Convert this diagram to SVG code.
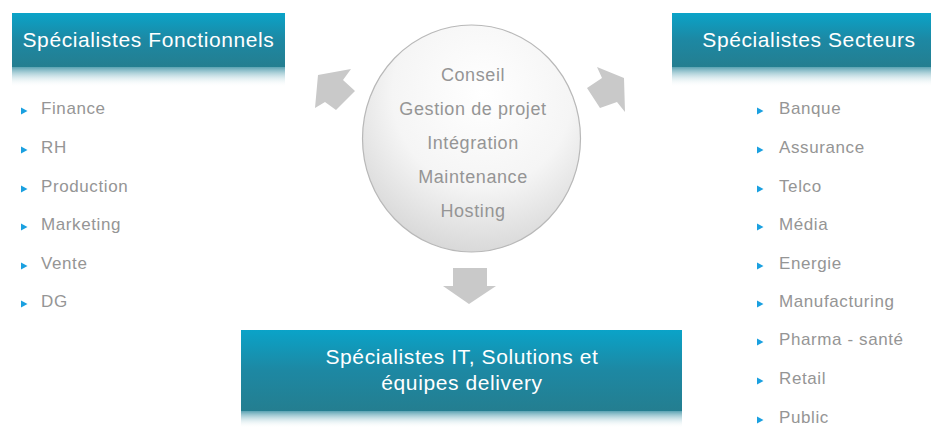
<svg xmlns="http://www.w3.org/2000/svg" width="931" height="428" viewBox="0 0 931 428">
<defs>
<linearGradient id="boxg" x1="0" y1="0" x2="0" y2="1">
<stop offset="0" stop-color="#0aa3c8"/>
<stop offset="0.5" stop-color="#1d88a3"/>
<stop offset="1" stop-color="#247e90"/>
</linearGradient>
<linearGradient id="fade" x1="0" y1="0" x2="0" y2="1">
<stop offset="0" stop-color="#4898aa" stop-opacity="0.9"/>
<stop offset="1" stop-color="#ffffff" stop-opacity="0"/>
</linearGradient>
<radialGradient id="circ" cx="0.55" cy="0.3" r="0.75">
<stop offset="0" stop-color="#ffffff"/>
<stop offset="0.55" stop-color="#f5f5f5"/>
<stop offset="1" stop-color="#d4d4d4"/>
</radialGradient>
<polygon id="bul" points="0,-3.5 6.5,0 0,3.5"/>
</defs>
<style>
.bt{font-family:"Liberation Sans",Arial,sans-serif;font-size:21px;fill:#ffffff;letter-spacing:0.6px}
.ct{font-family:"Liberation Sans",Arial,sans-serif;font-size:18px;fill:#959595;letter-spacing:0.6px;text-anchor:middle}
.lt{font-family:"Liberation Sans",Arial,sans-serif;font-size:17px;fill:#959595;letter-spacing:0.6px}
.arr{fill:#c9c9c9}
.b{fill:#1aa0e0}
</style>
<rect width="931" height="428" fill="#ffffff"/>
<g id="connectors">
<polygon class="arr" points="351,69 318,75 315,108 325,102 336,110 355,91 343,80"/>
<polygon class="arr" points="597,67 624,78 625,112 617,102 600,108 587,88 602,78"/>
<polygon class="arr" points="453,268 487,268 487,286 496,286 469,304 443,286 453,286"/>
</g>
<g id="center">
<ellipse cx="471.5" cy="138.5" rx="109" ry="113.5" fill="url(#circ)" stroke="#b8b8b8" stroke-width="1.2"/>
<text class="ct" x="473" y="81">Conseil</text>
<text class="ct" x="473" y="115">Gestion de projet</text>
<text class="ct" x="473" y="149">Intégration</text>
<text class="ct" x="473" y="183">Maintenance</text>
<text class="ct" x="473" y="217">Hosting</text>
</g>
<g id="fonctionnels">
<rect x="12" y="13" width="273" height="54" fill="url(#boxg)"/>
<rect x="12" y="67" width="273" height="20" fill="url(#fade)"/>
<text class="bt" x="148.5" y="47" text-anchor="middle">Spécialistes Fonctionnels</text>
</g>
<g id="secteurs">
<rect x="672" y="13" width="259" height="54" fill="url(#boxg)"/>
<rect x="672" y="67" width="259" height="20" fill="url(#fade)"/>
<text class="bt" x="809" y="47" text-anchor="middle">Spécialistes Secteurs</text>
</g>
<g id="it">
<rect x="241" y="330" width="441" height="81" fill="url(#boxg)"/>
<rect x="241" y="411" width="441" height="17" fill="url(#fade)"/>
<text class="bt" x="462" y="364" text-anchor="middle">Spécialistes IT, Solutions et</text>
<text class="bt" x="462" y="390" text-anchor="middle">équipes delivery</text>
</g>
<g id="liste-fonctionnels">
<use href="#bul" class="b" x="21" y="111"/><text class="lt" x="41" y="114">Finance</text>
<use href="#bul" class="b" x="21" y="150"/><text class="lt" x="41" y="153">RH</text>
<use href="#bul" class="b" x="21" y="189"/><text class="lt" x="41" y="192">Production</text>
<use href="#bul" class="b" x="21" y="227"/><text class="lt" x="41" y="230">Marketing</text>
<use href="#bul" class="b" x="21" y="266"/><text class="lt" x="41" y="269">Vente</text>
<use href="#bul" class="b" x="21" y="304"/><text class="lt" x="41" y="307">DG</text>
</g>
<g id="liste-secteurs">
<use href="#bul" class="b" x="757" y="111"/><text class="lt" x="779" y="114">Banque</text>
<use href="#bul" class="b" x="757" y="150"/><text class="lt" x="779" y="153">Assurance</text>
<use href="#bul" class="b" x="757" y="189"/><text class="lt" x="779" y="192">Telco</text>
<use href="#bul" class="b" x="757" y="227"/><text class="lt" x="779" y="230">Média</text>
<use href="#bul" class="b" x="757" y="266"/><text class="lt" x="779" y="269">Energie</text>
<use href="#bul" class="b" x="757" y="304"/><text class="lt" x="779" y="307">Manufacturing</text>
<use href="#bul" class="b" x="757" y="342"/><text class="lt" x="779" y="345">Pharma - santé</text>
<use href="#bul" class="b" x="757" y="381"/><text class="lt" x="779" y="384">Retail</text>
<use href="#bul" class="b" x="757" y="420"/><text class="lt" x="779" y="423">Public</text>
</g>
</svg>
